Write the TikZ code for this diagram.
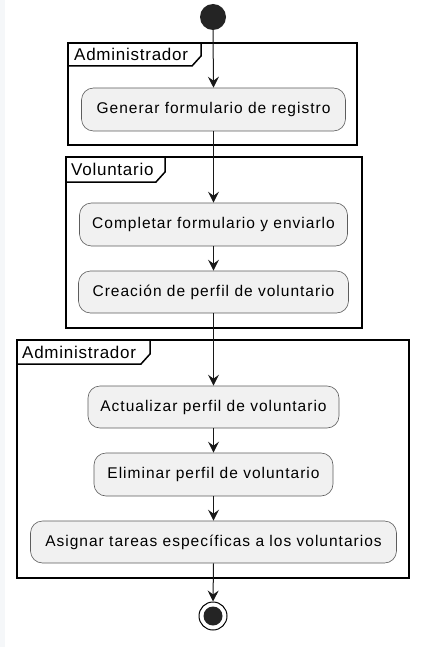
\documentclass[tikz,border=0pt]{standalone}
\usepackage{fontspec}
\setmainfont{Liberation Sans}
\newfontfamily\actfont[LetterSpace=6.5]{Liberation Sans}
\newfontfamily\tabfont[LetterSpace=4.4]{Liberation Sans}
\usetikzlibrary{arrows.meta}
\definecolor{actfill}{HTML}{F1F1F1}
\definecolor{lineclr}{HTML}{181818}
\definecolor{stripclr}{HTML}{F5F7F9}
\tikzset{
  actbox/.style={draw=lineclr!70, line width=0.6pt, fill=actfill, rounded corners=12pt,
     minimum height=43pt, inner sep=0pt, font=\actfont\fontsize{15.5}{18}\selectfont},
  flow/.style={draw=lineclr, line width=1pt, -{Stealth[length=11pt,width=11pt,inset=4pt]}},
  framebox/.style={draw=black, line width=1.5pt},
  tablabel/.style={anchor=west, inner sep=0pt, font=\tabfont\fontsize{17}{20}\selectfont}
}
\begin{document}
\begin{tikzpicture}[x=1pt,y=-1pt]
\useasboundingbox (0,0) rectangle (423,647);
\fill[white] (0,0) rectangle (423,647);
\fill[stripclr] (0,0) rectangle (5,647);

% frames
\draw[framebox] (68,43) rectangle (357,145);
\draw[framebox] (68,66) -- (192,66) -- (201,56) -- (201,43);
\node[tablabel] (t1) at (74,54) {Administrador};

\draw[framebox] (66,157) rectangle (362,328);
\draw[framebox] (66,182) -- (156,182) -- (165,172) -- (165,157);
\node[tablabel] (t2) at (71,169) {Voluntario};

\draw[framebox] (17,340) rectangle (409,578);
\draw[framebox] (17,364) -- (141,364) -- (150,354) -- (150,340);
\node[tablabel] (t3) at (22,352) {Administrador};

% start / end
\node[circle, fill=lineclr!95, minimum size=26pt, inner sep=0pt] (start) at (213,17) {};
\node[circle, draw=black, line width=1pt, fill=white, minimum size=28pt, inner sep=0pt] (stop) at (213,616) {};
\node[circle, fill=lineclr!95, minimum size=19pt, inner sep=0pt] (stopin) at (213,616) {};

% actions
\node[actbox, minimum width=264pt] (a1) at (213.5,109.5) {Generar formulario de registro};
\node[actbox, minimum width=268pt] (a2) at (213.5,224.5) {Completar formulario y enviarlo};
\node[actbox, minimum width=270pt, minimum height=42pt] (a3) at (213.5,292) {Creación de perfil de voluntario};
\node[actbox, minimum width=251pt, minimum height=42pt] (a4) at (213.5,407) {Actualizar perfil de voluntario};
\node[actbox, minimum width=239pt] (a5) at (213.5,474.5) {Eliminar perfil de voluntario};
\node[actbox, minimum width=366pt, minimum height=42pt] (a6) at (213.5,542) {Asignar tareas específicas a los voluntarios};

% connectors
\draw[flow] (start.south) -- (a1.north);
\draw[flow] (a1.south) -- (a2.north);
\draw[flow] (a2.south) -- (a3.north);
\draw[flow] (a3.south) -- (a4.north);
\draw[flow] (a4.south) -- (a5.north);
\draw[flow] (a5.south) -- (a6.north);
\draw[flow] (a6.south) -- (stop.north);
\end{tikzpicture}
\end{document}
